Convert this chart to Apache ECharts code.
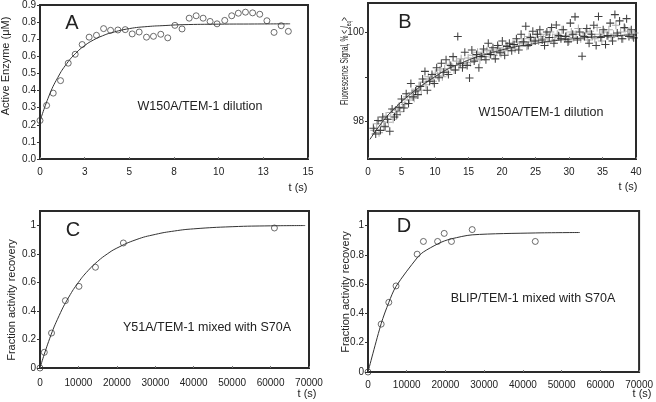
<!DOCTYPE html>
<html><head><meta charset="utf-8">
<script src="https://cdn.jsdelivr.net/npm/echarts@6/dist/echarts.min.js"></script>
<style>html,body{margin:0;padding:0;background:#fff}#c{width:656px;height:402px}</style>
</head><body><div id="c"></div>
<script>
// Panel A: W150A/TEM-1 dilution
var aTime = [0,0.37,0.74,1.15,1.58,1.97,2.36,2.75,3.16,3.56,3.95,4.36,4.77,5.16,5.55,5.96,6.35,6.76,7.15,7.55,7.95,8.35,8.74,9.13,9.52,9.91,10.34,10.73,11.1,11.5,11.9,12.3,12.7,13.1,13.5,13.9];
var aEnzyme = [0.225,0.313,0.385,0.458,0.56,0.612,0.669,0.712,0.723,0.762,0.752,0.754,0.756,0.731,0.742,0.712,0.717,0.729,0.708,0.781,0.76,0.823,0.837,0.823,0.804,0.79,0.81,0.837,0.852,0.858,0.854,0.846,0.808,0.74,0.779,0.746];
var aFitTime = [0,0.5,1,1.5,2,2.5,3,3.5,4,5,6,7,8,10,12,14];
var aFit = [0.22,0.368,0.477,0.558,0.618,0.663,0.696,0.72,0.738,0.762,0.774,0.78,0.785,0.788,0.789,0.79];

// Panel B: fluorescence (two overlaid traces, sampled every 0.35 s)
var bStartBlack = 0.8, bStartGray = 0.95, bStep = 0.35;
var bBlack = [97.85,97.72,98.02,97.80,98.10,97.88,98.05,97.78,98.28,98.10,
98.15,98.32,98.50,98.30,98.62,98.40,98.85,98.55,98.68,98.60,
98.78,98.95,99.12,98.70,98.90,99.05,98.85,99.20,98.98,99.30,
99.10,99.38,99.05,99.25,99.45,99.15,99.90,99.30,99.20,99.55,
99.25,98.97,99.60,99.35,99.50,99.20,99.45,99.62,99.38,99.75,
99.50,99.65,99.40,99.70,99.55,99.80,99.48,99.68,99.75,99.58,
99.72,99.85,99.60,99.95,99.78,100.13,99.70,99.88,100.02,99.80,
99.95,100.05,99.82,99.70,100.0,99.88,100.10,99.75,100.16,99.92,
99.85,100.05,99.90,99.78,100.20,99.95,100.34,99.82,100.00,99.46,
99.90,100.08,99.75,99.95,100.15,99.70,100.35,99.88,100.05,99.72,
99.92,100.20,99.80,100.39,99.98,100.25,99.85,100.10,100.30,99.90,100.05,99.87];
var bGray = [97.80,97.95,97.75,98.00,97.90,98.12,97.98,98.20,98.05,98.25,
98.30,98.22,98.42,98.38,98.55,98.48,98.65,98.52,98.72,98.80,
98.70,98.88,98.82,99.00,98.95,98.90,99.08,99.02,99.15,99.00,
99.18,99.10,99.28,99.22,99.15,99.35,99.25,99.40,99.30,99.28,
99.42,99.32,99.48,99.40,99.55,99.38,99.52,99.45,99.58,99.50,
99.60,99.48,99.55,99.65,99.52,99.62,99.70,99.58,99.66,99.72,
99.62,99.78,99.70,99.75,99.85,99.68,99.90,99.78,99.82,99.95,
99.80,99.90,99.85,99.95,99.78,100.00,99.88,99.82,99.95,99.90,
100.05,99.85,99.92,99.80,100.00,99.88,99.95,100.08,99.85,99.92,
99.98,99.82,100.02,99.90,99.85,100.10,99.95,99.80,100.00,99.92,
100.05,99.88,99.95,100.15,99.90,100.00,99.85,100.08,99.95,100.02,99.90,99.98];
var bFitTime = [0.3,2,4,6,8,10,12,14,16,18,20,22,24,26,28,30,33,36,40];
var bFit = [97.6,97.96,98.3,98.57,98.8,99.0,99.18,99.31,99.43,99.52,99.6,99.67,99.72,99.77,99.81,99.84,99.88,99.91,99.94];
var bYTicks = [98,99,100];
var bYLabels = [98,100];

// Panel C: Y51A/TEM-1 mixed with S70A
var cTime = [0,1117,3000,6600,10140,14430,21700,61000];
var cRecovery = [0,0.11,0.245,0.472,0.572,0.706,0.876,0.981];
var cFitTime = [0,2500,5000,7500,10000,12500,15000,17500,20000,25000,30000,35000,40000,50000,60000,69000];
var cFit = [0,0.205,0.368,0.497,0.6,0.682,0.747,0.799,0.84,0.899,0.936,0.96,0.975,0.99,0.996,0.998];

// Panel D: BLIP/TEM-1 mixed with S70A
var dTime = [0,3400,5370,7240,12690,14310,17970,19680,21550,26900,43190];
var dRecovery = [0,0.327,0.476,0.588,0.805,0.892,0.892,0.947,0.892,0.973,0.892];
var dFitTime = [0,3400,5370,7240,12690,14310,17970,19680,21550,26900,43190,54700];
var dFit = [0,0.33,0.475,0.585,0.78,0.82,0.875,0.895,0.91,0.937,0.95,0.953];

var recoveryTicks = [0,0.2,0.4,0.6,0.8,1];

function pairs(xs, ys){ return ys.map(function(y,i){ return [xs[i], y]; }); }
function sampled(start, step, ys){ return ys.map(function(y,i){ return [+(start + i*step).toFixed(3), y]; }); }

var FONT = 'Liberation Sans, Arial, sans-serif';
var TXT = '#222';
var frame = { show:true, borderColor:'#2a2a2a', borderWidth:2, backgroundColor:'transparent' };
function plain(v){ return String(v); }
function xAx(idx, max, interval, fmt, margin){
  return { type:'value', gridIndex:idx, min:0, max:max, interval:interval,
    axisLine:{show:false}, splitLine:{show:false},
    axisTick:{show:true, inside:true, length:2, lineStyle:{color:'#777'}},
    axisLabel:{color:TXT, fontSize:10, fontFamily:FONT, margin:margin, formatter:fmt || plain} };
}
function yAx(idx, min, max, ticks, labels){
  return { type:'value', gridIndex:idx, min:min, max:max,
    axisLine:{show:false}, splitLine:{show:false},
    axisTick:{show:true, length:3, customValues:ticks, lineStyle:{color:'#333'}},
    axisLabel:{color:TXT, fontSize:10, fontFamily:FONT, margin:4, customValues:labels, formatter:plain} };
}
var circle = { symbol:'circle', symbolSize:6, itemStyle:{color:'rgba(255,255,255,0)', borderColor:'#333', borderWidth:0.9} };
var plusPath = 'path://M4.35,0h1.3v10h-1.3z M0,4.35h10v1.3h-10z';
var lineStyle = { color:'#333', width:1 };

function txt(x, y, text, size, rot, extra){
  var s = { text:text, fill:TXT, font: size + 'px ' + FONT, textAlign:'center', textVerticalAlign:'middle' };
  if (extra) for (var k in extra) s[k] = extra[k];
  return { type:'text', x:x, y:y, rotation: rot || 0, style:s, z:100 };
}

var chart = echarts.init(document.getElementById('c'), null, {renderer:'canvas'});
chart.setOption({
  animation:false,
  grid:[
    Object.assign({left:40, top:3, width:268, height:156}, frame),
    Object.assign({left:368, top:3, width:268, height:156}, frame),
    Object.assign({left:40, top:211, width:269, height:157}, frame),
    Object.assign({left:368, top:211, width:273, height:161}, frame)
  ],
  xAxis:[
    xAx(0, 15, 2.5, function(v){ return String(Math.round(v)); }, 8),
    xAx(1, 40, 5, null, 8),
    xAx(2, 70000, 10000, null, 10),
    xAx(3, 70000, 10000, null, 8)
  ],
  yAxis:[
    { type:'value', gridIndex:0, min:0, max:0.9, interval:0.1,
      axisLine:{show:false}, splitLine:{show:false},
      axisTick:{show:true, length:3, lineStyle:{color:'#333'}},
      axisLabel:{color:TXT, fontSize:10, fontFamily:FONT, margin:4, formatter:function(v){ return v.toFixed(1); }} },
    yAx(1, 97.16, 100.65, bYTicks, bYLabels),
    yAx(2, 0, 1.1, recoveryTicks, recoveryTicks),
    yAx(3, 0, 1.1, recoveryTicks, recoveryTicks)
  ],
  series:[
    { type:'line', xAxisIndex:0, yAxisIndex:0, data:pairs(aFitTime, aFit), smooth:true, showSymbol:false, lineStyle:lineStyle },
    Object.assign({ type:'scatter', xAxisIndex:0, yAxisIndex:0, data:pairs(aTime, aEnzyme) }, circle),
    { type:'scatter', xAxisIndex:1, yAxisIndex:1, data:sampled(bStartGray, bStep, bGray), symbol:plusPath, symbolSize:8, itemStyle:{color:'#9a9a9a'} },
    { type:'scatter', xAxisIndex:1, yAxisIndex:1, data:sampled(bStartBlack, bStep, bBlack), symbol:plusPath, symbolSize:8, itemStyle:{color:'#111'} },
    { type:'line', xAxisIndex:1, yAxisIndex:1, data:pairs(bFitTime, bFit), smooth:true, showSymbol:false, lineStyle:{color:'#333', width:1}, z:5 },
    { type:'line', xAxisIndex:2, yAxisIndex:2, data:pairs(cFitTime, cFit), smooth:true, showSymbol:false, lineStyle:lineStyle },
    Object.assign({ type:'scatter', xAxisIndex:2, yAxisIndex:2, data:pairs(cTime, cRecovery) }, circle),
    { type:'line', xAxisIndex:3, yAxisIndex:3, data:pairs(dFitTime, dFit), smooth:0.3, showSymbol:false, lineStyle:lineStyle },
    Object.assign({ type:'scatter', xAxisIndex:3, yAxisIndex:3, data:pairs(dTime, dRecovery) }, circle)
  ],
  graphic:[
    txt(72, 23, 'A', 20), txt(405, 22, 'B', 20), txt(73, 230, 'C', 20), txt(404, 226, 'D', 20),
    txt(200, 107, 'W150A/TEM-1 dilution', 12.5),
    txt(541, 113, 'W150A/TEM-1 dilution', 12.5),
    txt(207, 328, 'Y51A/TEM-1 mixed with S70A', 12.5),
    txt(533, 299, 'BLIP/TEM-1 mixed with S70A', 12.5),
    txt(298, 188, 't (s)', 11), txt(628, 187, 't (s)', 11),
    txt(307, 394, 't (s)', 11), txt(642, 394, 't (s)', 11),
    txt(6, 66, 'Active Enzyme (μM)', 11, Math.PI/2),
    txt(12, 300, 'Fraction activity recovery', 11, Math.PI/2),
    txt(346, 292, 'Fraction activity recovery', 11, Math.PI/2),
    { type:'text', x:345, y:61, rotation:Math.PI/2, scaleX:0.6, scaleY:1, z:100,
      style:{ text:'{n|Fluorescence Signal, % < }{i|I}{s|eq}{n|>}', align:'center', verticalAlign:'middle', textAlign:'center', textVerticalAlign:'middle', fill:TXT,
        rich:{ n:{fontSize:11, fontFamily:FONT, fill:TXT},
               i:{fontSize:11, fontFamily:FONT, fontStyle:'italic', fill:TXT},
               s:{fontSize:8, fontFamily:FONT, fill:TXT, padding:[8,0,0,0]} } } }
  ]
});
</script></body></html>
